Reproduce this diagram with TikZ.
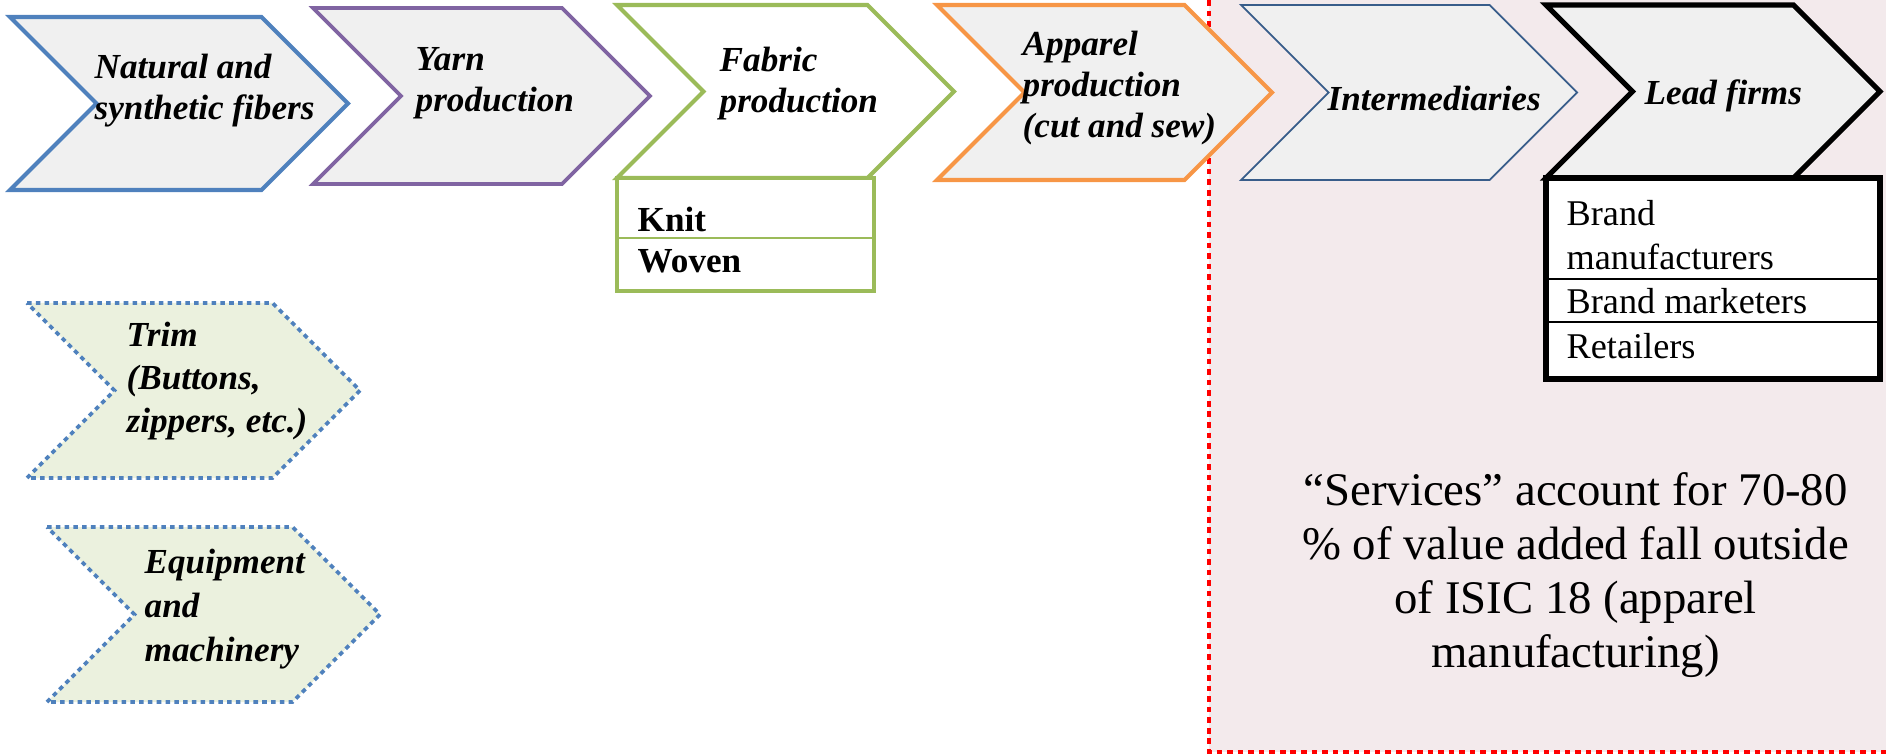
\documentclass[tikz,border=0pt]{standalone}
\usepackage{fontspec}
\setmainfont{Liberation Serif}
\definecolor{cblue}{HTML}{4F81BD}
\definecolor{cpurple}{HTML}{8064A2}
\definecolor{cgreen}{HTML}{9BBB59}
\definecolor{corange}{HTML}{F79646}
\definecolor{cdblue}{HTML}{385D8A}
\definecolor{cgray}{HTML}{F0F0F0}
\definecolor{cpale}{HTML}{EBF1DE}
\definecolor{cpink}{HTML}{F3EAEC}
\newcommand\chev[5]{%
  \pgfmathsetmacro\chD{(#4-#3)/2}%
  \pgfmathsetmacro\chM{(#4+#3)/2}%
  \draw[#1] (#2,#3) -- ({#5-\chD},#3) -- (#5,\chM) -- ({#5-\chD},#4) -- (#2,#4) -- ({#2+\chD},\chM) -- cycle;}
\tikzset{
  chevbase/.style={line join=miter, fill=cgray},
  dotchev/.style={draw=cblue, fill=cpale, line width=1.1pt, dash pattern=on 1.3pt off 1.2pt},
  ctext/.style={anchor=west, align=left, inner sep=0pt, font=\fontsize{10}{11.7}\selectfont\bfseries\itshape},
  btext/.style={anchor=west, inner sep=0pt, font=\fontsize{10.3}{12.7}\selectfont},
  ktext/.style={anchor=west, inner sep=0pt, font=\fontsize{10}{12}\selectfont\bfseries},
}
\begin{document}
\begin{tikzpicture}[x=0.01cm, y=-0.01cm]
\useasboundingbox (0,0) rectangle (1886,755);
% services region
\fill[cpink] (1209,0) rectangle (1886,752);
\draw[red, line width=1.15pt, dash pattern=on 1.6pt off 1.4pt] (1209,0) -- (1209,752) -- (1886,752);
% main chevrons
\chev{chevbase, draw=cblue, line width=1.15pt}{10}{17}{190}{348}
\chev{chevbase, draw=cpurple, line width=1.05pt}{313}{8}{184}{650}
\chev{chevbase, draw=cgreen, fill=white, line width=1.15pt}{617}{5}{178}{954}
\chev{chevbase, draw=corange, line width=1.15pt}{937}{5}{180}{1272}
\chev{chevbase, draw=cdblue, line width=0.5pt}{1241}{5}{180}{1577}
\chev{chevbase, draw=black, line width=1.45pt}{1546}{5}{178}{1880}
% supporting chevrons
\chev{dotchev}{27}{303}{478}{360}
\chev{dotchev}{47}{527}{702}{380}
% boxes
\draw[cgreen, line width=1.15pt, fill=white] (617,178) rectangle (874,291);
\draw[cgreen, line width=0.4pt] (617,238) -- (874,238);
\draw[black, line width=1.45pt, fill=white] (1546,178) rectangle (1880,379);
\draw[black, line width=0.6pt] (1546,279) -- (1880,279);
\draw[black, line width=0.6pt] (1546,322) -- (1880,322);
% texts
\node[ctext] (t1) at (94,90.5) {Natural and\\synthetic fibers};
\node[ctext] (t2) at (415,83.5) {Yarn\\production};
\node[ctext] (t3) at (719,83.5) {Fabric\\production};
\node[ctext] (t4) at (1022,87.8) {Apparel\\production\\(cut and sew)};
\node[ctext] (t5) at (1327,98.6) {Intermediaries};
\node[ctext] (t6) at (1644,96) {Lead firms};
\node[ctext, font=\fontsize{10}{12.2}\selectfont\bfseries\itshape] (t7) at (126,381) {Trim\\(Buttons,\\zippers, etc.)};
\node[ctext, font=\fontsize{10}{12.4}\selectfont\bfseries\itshape] (t8) at (144,609) {Equipment\\and\\machinery};
\node[ktext] (k1) at (637,219) {Knit};
\node[ktext] (k2) at (637,261) {Woven};
\node[btext] (b1) at (1566,213) {Brand};
\node[btext] (b2) at (1566,257.4) {manufacturers};
\node[btext] (b3) at (1566,300.7) {Brand marketers};
\node[btext] (b4) at (1566,346.4) {Retailers};
\node[align=center, inner sep=0pt, font=\fontsize{13.3}{15.4}\selectfont] (svc) at (1575.6,575)
  {“Services” account for 70-80\\\% of value added fall outside\\of ISIC 18 (apparel\\manufacturing)};
\end{tikzpicture}
\end{document}
